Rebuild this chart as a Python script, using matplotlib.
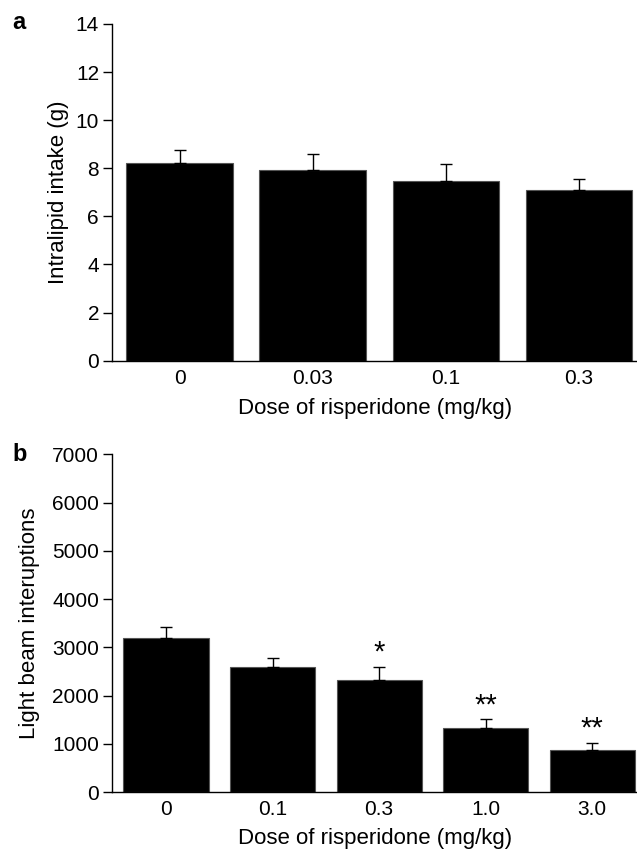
import matplotlib.pyplot as plt

plt.rcParams['font.family'] = ['Liberation Sans', 'DejaVu Sans']
plt.rcParams['font.size'] = 15

# panel a
doses_a = ['0', '0.03', '0.1', '0.3']
intake = [8.23, 7.94, 7.45, 7.08]
intake_err = [0.55, 0.65, 0.74, 0.47]

# panel b
doses_b = ['0', '0.1', '0.3', '1.0', '3.0']
beams = [3198, 2590, 2324, 1335, 878]
beams_err = [225, 190, 272, 173, 139]
stars = ['', '', '*', '**', '**']

fig = plt.figure(figsize=(6.37, 8.5), dpi=100)
ax1 = fig.add_axes([0.1763, 0.5757, 0.8237, 0.3961])
ax2 = fig.add_axes([0.1763, 0.0682, 0.8237, 0.3973])


def style(ax):
    for s in ['top', 'right']:
        ax.spines[s].set_visible(False)
    ax.spines['left'].set_linewidth(1.0)
    ax.spines['bottom'].set_linewidth(1.0)
    ax.tick_params(axis='y', direction='out', length=6.5, width=1.0, pad=3)
    ax.tick_params(axis='x', length=0, pad=6)


x = range(len(doses_a))
ax1.bar(x, intake, width=0.8, color='black', edgecolor='#555555', linewidth=0.8,
        yerr=[[0] * len(intake), intake_err], capsize=4,
        error_kw=dict(elinewidth=1.0, capthick=1.0, ecolor='black'))
ax1.set_xlim(-0.505, 3.436)
ax1.set_ylim(0, 14)
ax1.set_yticks(range(0, 15, 2))
ax1.set_xticks(list(x))
ax1.set_xticklabels(doses_a)
ax1.set_ylabel('Intralipid intake (g)', fontsize=16, labelpad=5)
ax1.set_xlabel('Dose of risperidone (mg/kg)', fontsize=16, labelpad=7)
style(ax1)

x = range(len(doses_b))
ax2.bar(x, beams, width=0.8, color='black', edgecolor='#555555', linewidth=0.8,
        yerr=[[0] * len(beams), beams_err], capsize=4,
        error_kw=dict(elinewidth=1.0, capthick=1.0, ecolor='black'))
for i, s in enumerate(stars):
    if s:
        ax2.text(i, beams[i] + beams_err[i] + 0, s, ha='center', va='bottom', fontsize=21)
ax2.set_xlim(-0.504, 4.42)
ax2.set_ylim(0, 7000)
ax2.set_yticks(range(0, 7001, 1000))
ax2.set_xticks(list(x))
ax2.set_xticklabels(doses_b)
ax2.set_ylabel('Light beam interuptions', fontsize=16, labelpad=9)
ax2.set_xlabel('Dose of risperidone (mg/kg)', fontsize=16, labelpad=6)
style(ax2)

fig.text(0.03, 0.974, 'a', fontsize=17, fontweight='bold', ha='center', va='center')
fig.text(0.031, 0.465, 'b', fontsize=17, fontweight='bold', ha='center', va='center')

fig.savefig('out.png', dpi=100)
